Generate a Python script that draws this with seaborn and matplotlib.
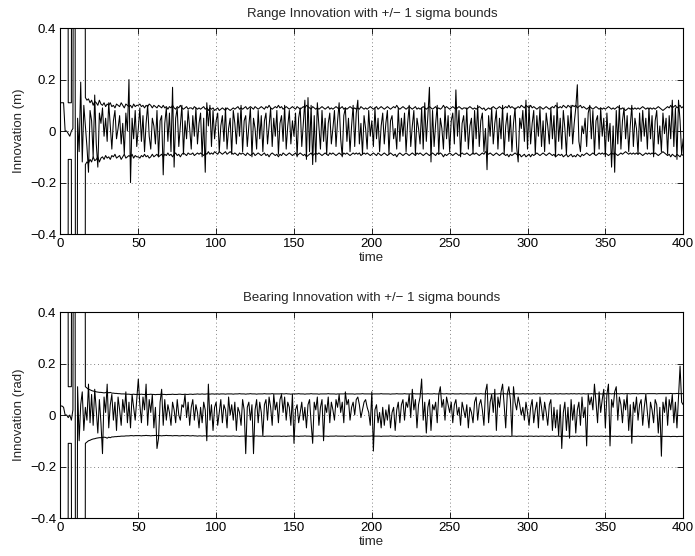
import numpy as np
import pandas as pd
import seaborn as sns
import matplotlib.pyplot as plt
from matplotlib.ticker import FuncFormatter

# -------------------------------
# Dados (passo de tempo = 1)
# -------------------------------
BIG = 5.0  # sigma fora da escala no início

range_innov = [
    0.11, 0.11, 0.11, 0.00, 0.00, -0.01, -0.02, 0.00, 0.01, 3.00,
    -3.00, 0.05, -0.08, 0.19, -0.12, 0.10, 0.02, -0.06, -0.16, 0.08,
    0.04, -0.10, 0.14, -0.05, -0.14, 0.07, 0.03, 0.09, -0.02, 0.05,
    -0.04, 0.11, 0.02, -0.07, 0.04, 0.08, -0.03, 0.01, 0.06, -0.05,
    0.03, -0.09, 0.07, 0.00, 0.20, -0.20, 0.05, -0.03, 0.08, -0.06,
    0.01, 0.09, -0.04, 0.06, -0.08, 0.03, 0.10, -0.02, -0.07, 0.05,
    0.02, -0.05, 0.08, -0.10, 0.04, 0.06, -0.17, 0.03, 0.09, -0.04,
    0.07, -0.08, 0.17, -0.14, 0.05, 0.09, -0.06, 0.02, 0.10, -0.09,
    0.04, -0.03, 0.08, 0.01, -0.07, 0.06, -0.02, 0.09, -0.05, 0.03,
    0.07, -0.10, 0.05, -0.16, 0.11, 0.02, 0.10, -0.06, 0.08, -0.03,
    0.04, 0.07, -0.08, 0.02, 0.06, -0.04, 0.09, -0.07, 0.01, 0.05,
    -0.09, 0.08, 0.03, -0.05, 0.07, -0.02, 0.10, -0.08, 0.04, 0.06,
    -0.06, 0.02, 0.09, -0.10, 0.05, 0.01, -0.07, 0.08, -0.03, 0.06,
    -0.08, 0.04, 0.07, -0.05, 0.02, 0.09, -0.06, 0.05, -0.02, 0.08,
    -0.09, 0.03, 0.06, -0.04, 0.10, -0.07, 0.02, 0.08, -0.05, 0.04,
    -0.02, 0.07, -0.10, 0.05, 0.09, -0.06, 0.03, 0.12, -0.11, 0.13,
    -0.08, 0.10, -0.13, 0.06, -0.12, 0.11, 0.02, -0.07, 0.08, -0.04,
    0.05, -0.09, 0.03, 0.07, -0.05, 0.01, 0.08, -0.06, 0.04, 0.11,
    -0.03, -0.10, 0.06, 0.09, -0.04, 0.05, -0.08, 0.02, 0.10, -0.06,
    0.07, 0.12, -0.05, 0.03, -0.09, 0.06, 0.01, -0.07, 0.08, -0.02,
    0.04, -0.06, 0.09, -0.03, 0.05, -0.08, 0.02, 0.07, -0.05, 0.03,
    0.08, -0.09, 0.04, 0.06, -0.03, 0.01, -0.07, 0.09, -0.04, 0.05,
    -0.02, 0.07, -0.08, 0.03, 0.10, -0.06, 0.02, 0.08, -0.09, 0.05,
    0.01, -0.05, 0.09, -0.07, 0.11, -0.04, 0.06, 0.17, -0.12, 0.08,
    -0.06, 0.03, 0.10, -0.09, 0.05, 0.01, -0.07, 0.09, -0.03, 0.06,
    -0.08, 0.04, 0.07, -0.05, 0.16, -0.02, 0.08, -0.10, 0.03, 0.06,
    -0.04, 0.09, -0.07, 0.02, 0.05, -0.09, 0.08, -0.03, 0.10, -0.06,
    0.04, 0.07, -0.08, 0.01, -0.15, 0.06, -0.02, 0.09, -0.05, 0.03,
    0.08, -0.07, 0.05, -0.03, 0.10, -0.09, 0.02, 0.07, -0.04, 0.06,
    -0.08, 0.03, 0.09, -0.06, -0.12, 0.05, 0.01, 0.08, -0.04, 0.12,
    -0.07, 0.10, -0.05, 0.03, 0.08, -0.09, 0.06, -0.02, 0.09, -0.06,
    0.04, -0.08, 0.07, 0.02, -0.05, 0.09, -0.03, 0.06, -0.10, 0.11,
    -0.04, 0.05, -0.07, 0.08, 0.01, -0.09, 0.06, -0.02, 0.10, -0.05,
    0.03, 0.09, 0.18, -0.04, -0.08, 0.02, -0.01, 0.05, -0.06, 0.07,
    0.10, -0.03, 0.08, -0.09, 0.04, 0.06, -0.07, 0.09, -0.02, 0.05,
    -0.10, 0.07, -0.04, 0.03, -0.14, 0.02, -0.16, 0.08, -0.05, 0.10,
    -0.07, 0.04, 0.09, -0.03, 0.06, -0.08, 0.02, 0.10, -0.06, 0.05,
    0.01, -0.09, 0.07, -0.04, 0.08, -0.02, 0.05, -0.07, 0.09, -0.03,
    0.06, -0.10, 0.04, 0.08, -0.05, 0.02, -0.08, 0.07, -0.01, 0.05,
    -0.09, 0.06, -0.03, 0.12, -0.06, 0.09, -0.11, 0.12, 0.04, -0.09,
    -0.03,
]

range_sigma = [
    BIG, BIG, BIG, BIG, BIG, 0.11, 0.11, 0.11, BIG, BIG,
    BIG, BIG, BIG, BIG, BIG, BIG, 0.13, 0.12, 0.125, 0.11,
    0.12, 0.10, 0.115, 0.11, 0.10, 0.12, 0.105, 0.10, 0.11, 0.095,
    0.105, 0.10, 0.11, 0.095, 0.10, 0.09, 0.105, 0.10, 0.095, 0.11,
    0.10, 0.09, 0.105, 0.10, 0.095, 0.10, 0.09, 0.105, 0.095, 0.10,
    0.10, 0.105, 0.095, 0.10, 0.09, 0.10, 0.095, 0.105, 0.10, 0.09,
    0.10, 0.095, 0.09, 0.10, 0.095, 0.09, 0.10, 0.09, 0.095, 0.085,
    0.095, 0.09, 0.10, 0.09, 0.085, 0.095, 0.09, 0.10, 0.09, 0.085,
    0.09, 0.095, 0.085, 0.09, 0.09, 0.085, 0.095, 0.09, 0.085, 0.09,
    0.085, 0.09, 0.095, 0.085, 0.09, 0.08, 0.09, 0.085, 0.09, 0.08,
    0.085, 0.09, 0.08, 0.085, 0.09, 0.085, 0.08, 0.09, 0.085, 0.08,
    0.085, 0.09, 0.085, 0.09, 0.095, 0.085, 0.09, 0.085, 0.09, 0.095,
    0.085, 0.09, 0.095, 0.09, 0.085, 0.095, 0.09, 0.085, 0.09, 0.095,
    0.09, 0.085, 0.095, 0.09, 0.10, 0.09, 0.085, 0.09, 0.095, 0.09,
    0.10, 0.09, 0.095, 0.085, 0.09, 0.095, 0.09, 0.085, 0.09, 0.095,
    0.09, 0.085, 0.095, 0.09, 0.085, 0.09, 0.095, 0.09, 0.10, 0.095,
    0.09, 0.085, 0.095, 0.09, 0.085, 0.09, 0.085, 0.09, 0.095, 0.09,
    0.085, 0.09, 0.095, 0.085, 0.09, 0.085, 0.09, 0.095, 0.09, 0.085,
    0.09, 0.095, 0.085, 0.09, 0.085, 0.09, 0.095, 0.09, 0.085, 0.09,
    0.085, 0.09, 0.085, 0.095, 0.09, 0.085, 0.09, 0.085, 0.09, 0.095,
    0.09, 0.085, 0.09, 0.095, 0.085, 0.09, 0.095, 0.09, 0.085, 0.09,
    0.095, 0.09, 0.085, 0.09, 0.095, 0.09, 0.10, 0.09, 0.085, 0.09,
    0.095, 0.09, 0.085, 0.09, 0.095, 0.09, 0.085, 0.09, 0.095, 0.085,
    0.09, 0.085, 0.09, 0.095, 0.09, 0.085, 0.09, 0.095, 0.09, 0.085,
    0.09, 0.095, 0.085, 0.09, 0.085, 0.09, 0.10, 0.09, 0.095, 0.09,
    0.085, 0.09, 0.095, 0.09, 0.085, 0.09, 0.095, 0.09, 0.085, 0.09,
    0.09, 0.085, 0.09, 0.095, 0.09, 0.085, 0.09, 0.085, 0.09, 0.095,
    0.09, 0.085, 0.09, 0.08, 0.085, 0.09, 0.085, 0.09, 0.095, 0.09,
    0.085, 0.09, 0.095, 0.09, 0.085, 0.09, 0.095, 0.09, 0.10, 0.09,
    0.095, 0.09, 0.085, 0.09, 0.095, 0.09, 0.10, 0.095, 0.09, 0.10,
    0.095, 0.09, 0.10, 0.09, 0.095, 0.09, 0.085, 0.09, 0.095, 0.09,
    0.085, 0.09, 0.095, 0.09, 0.085, 0.09, 0.095, 0.09, 0.10, 0.095,
    0.09, 0.095, 0.09, 0.10, 0.095, 0.09, 0.10, 0.095, 0.09, 0.10,
    0.095, 0.10, 0.09, 0.095, 0.10, 0.09, 0.095, 0.09, 0.085, 0.09,
    0.095, 0.09, 0.085, 0.09, 0.095, 0.09, 0.085, 0.09, 0.085, 0.09,
    0.085, 0.09, 0.095, 0.09, 0.085, 0.09, 0.085, 0.09, 0.095, 0.09,
    0.085, 0.09, 0.085, 0.08, 0.085, 0.09, 0.085, 0.09, 0.085, 0.09,
    0.085, 0.09, 0.085, 0.09, 0.095, 0.09, 0.085, 0.09, 0.085, 0.09,
    0.085, 0.09, 0.085, 0.09, 0.095, 0.09, 0.085, 0.08, 0.085, 0.09,
    0.095, 0.09, 0.10, 0.09, 0.095, 0.10, 0.09, 0.095, 0.10, 0.09,
    0.095,
]

bearing_innov = [
    0.035, 0.035, 0.03, 0.00, 0.00, -0.01, 0.00, -0.02, 0.02, 3.00,
    -3.00, 0.11, -0.10, 0.04, 0.09, -0.06, 0.03, -0.02, 0.12, -0.03,
    0.08, -0.04, 0.10, 0.02, -0.07, 0.06, -0.03, -0.15, 0.07, 0.01,
    0.12, -0.05, 0.04, 0.08, -0.02, 0.05, -0.06, 0.07, 0.02, -0.04,
    0.06, 0.01, 0.09, -0.03, 0.05, -0.05, 0.08, 0.03, -0.02, 0.06,
    0.14, 0.04, -0.03, 0.07, 0.02, 0.12, -0.04, 0.06, 0.01, 0.08,
    -0.05, 0.03, -0.13, -0.09, 0.05, 0.10, -0.04, 0.06, -0.02, 0.04,
    0.01, -0.04, 0.05, 0.02, -0.03, 0.06, 0.00, -0.02, 0.04, 0.03,
    0.08, -0.01, 0.05, -0.04, 0.03, 0.06, -0.02, 0.04, 0.01, -0.05,
    0.03, -0.03, 0.05, 0.02, -0.10, 0.12, -0.02, 0.04, -0.06, 0.03,
    0.05, -0.04, 0.01, 0.06, -0.03, 0.04, 0.02, -0.05, 0.07, 0.00,
    0.04, -0.02, 0.05, -0.06, 0.03, 0.01, -0.04, 0.06, 0.02, -0.15,
    0.03, 0.05, -0.02, 0.04, -0.15, 0.02, 0.06, -0.03, 0.05, 0.01,
    -0.08, 0.04, 0.06, -0.02, 0.07, 0.03, -0.04, 0.08, 0.02, 0.05,
    -0.03, 0.06, 0.08, 0.01, 0.07, -0.02, 0.05, 0.03, -0.04, 0.08,
    -0.11, 0.02, 0.04, -0.03, 0.01, 0.05, -0.02, 0.03, -0.05, 0.04,
    0.06, -0.03, -0.11, 0.05, 0.02, 0.07, -0.04, 0.03, 0.06, -0.10,
    0.04, 0.01, 0.07, -0.03, 0.05, 0.02, -0.02, 0.06, 0.03, 0.08,
    0.01, 0.05, -0.03, 0.09, 0.04, 0.06, -0.02, 0.03, 0.05, 0.00,
    0.06, 0.07, 0.04, -0.01, 0.02, 0.05, 0.06, 0.03, 0.01, -0.04,
    0.09, -0.14, 0.02, 0.04, -0.03, 0.01, -0.05, 0.03, -0.04, 0.02,
    -0.02, 0.04, -0.05, 0.01, 0.03, -0.06, 0.02, 0.05, -0.03, 0.04,
    0.06, -0.02, 0.05, 0.03, 0.08, -0.01, 0.10, 0.02, 0.06, -0.05,
    0.04, 0.07, 0.14, -0.02, 0.05, -0.07, 0.03, 0.06, -0.06, 0.04,
    0.02, 0.05, -0.03, 0.08, 0.11, 0.03, 0.06, -0.02, 0.07, 0.04,
    0.01, 0.05, -0.03, 0.04, 0.06, 0.00, 0.03, -0.04, 0.05, 0.02,
    -0.01, 0.04, -0.05, 0.03, 0.01, -0.03, 0.05, 0.07, -0.02, 0.04,
    0.06, 0.02, -0.04, 0.09, 0.12, -0.03, 0.05, 0.08, 0.01, 0.10,
    -0.06, 0.07, 0.03, 0.09, 0.12, 0.04, -0.05, 0.08, 0.11, 0.06,
    -0.08, 0.11, 0.05, 0.02, 0.07, 0.04, 0.00, 0.03, -0.02, 0.05,
    0.01, -0.04, 0.03, 0.06, -0.03, 0.02, 0.05, -0.05, 0.07, 0.03,
    -0.02, 0.05, 0.01, -0.04, 0.04, 0.06, -0.06, 0.03, -0.05, 0.02,
    -0.08, 0.04, -0.13, 0.01, 0.05, -0.06, 0.03, -0.09, 0.06, -0.02,
    0.04, -0.07, 0.02, 0.05, -0.04, 0.07, -0.01, 0.03, -0.12, 0.08,
    0.04, 0.07, 0.02, 0.12, 0.05, -0.03, 0.09, 0.01, 0.06, 0.10,
    -0.05, 0.08, 0.12, -0.12, 0.06, 0.03, 0.09, 0.11, -0.02, 0.07,
    0.04, -0.03, 0.06, 0.02, 0.08, -0.06, 0.04, -0.11, 0.05, 0.01,
    0.07, -0.02, 0.04, 0.06, -0.04, 0.03, 0.08, 0.01, -0.05, 0.05,
    0.02, -0.03, 0.06, 0.04, -0.07, 0.03, -0.16, 0.05, 0.01, 0.07,
    -0.04, 0.06, 0.02, 0.08, -0.03, 0.05, -0.05, 0.07, 0.19, 0.05,
    0.04,
]

bearing_sigma = [
    BIG, BIG, BIG, BIG, BIG, 0.11, 0.11, 0.11, BIG, BIG,
    BIG, BIG, BIG, BIG, BIG, BIG, 0.11, 0.105, 0.10, 0.098,
    0.095, 0.093, 0.092, 0.09, 0.089, 0.088, 0.088, 0.087, 0.086, 0.087,
    0.09, 0.086, 0.088, 0.085, 0.085, 0.084, 0.084, 0.083, 0.083, 0.082,
    0.082, 0.082, 0.081, 0.081, 0.081, 0.08, 0.08, 0.081, 0.08, 0.08,
    0.08, 0.08, 0.081, 0.08, 0.08, 0.079, 0.08, 0.08, 0.081, 0.08,
    0.08, 0.079, 0.08, 0.08, 0.08, 0.081, 0.08, 0.08, 0.079, 0.08,
    0.08, 0.08, 0.081, 0.08, 0.08, 0.08, 0.081, 0.081, 0.08, 0.08,
    0.081, 0.08, 0.08, 0.081, 0.081, 0.08, 0.081, 0.081, 0.082, 0.081,
    0.081, 0.082, 0.081, 0.081, 0.082, 0.082, 0.081, 0.082, 0.082, 0.081,
    0.082, 0.082, 0.081, 0.082, 0.082, 0.082, 0.081, 0.082, 0.082, 0.082,
    0.082, 0.081, 0.082, 0.082, 0.082, 0.083, 0.082, 0.082, 0.082, 0.081,
    0.082, 0.082, 0.083, 0.082, 0.082, 0.082, 0.081, 0.082, 0.082, 0.082,
    0.082, 0.083, 0.082, 0.082, 0.082, 0.082, 0.083, 0.082, 0.082, 0.082,
    0.082, 0.082, 0.083, 0.082, 0.082, 0.083, 0.082, 0.082, 0.081, 0.082,
    0.082, 0.082, 0.082, 0.083, 0.082, 0.082, 0.082, 0.081, 0.082, 0.082,
    0.082, 0.083, 0.082, 0.082, 0.082, 0.082, 0.081, 0.082, 0.082, 0.082,
    0.082, 0.082, 0.083, 0.082, 0.082, 0.082, 0.082, 0.081, 0.082, 0.082,
    0.082, 0.082, 0.082, 0.083, 0.082, 0.082, 0.082, 0.082, 0.082, 0.081,
    0.082, 0.082, 0.082, 0.082, 0.083, 0.082, 0.082, 0.082, 0.082, 0.082,
    0.081, 0.082, 0.082, 0.082, 0.082, 0.082, 0.083, 0.082, 0.082, 0.082,
    0.082, 0.082, 0.081, 0.082, 0.082, 0.082, 0.083, 0.082, 0.082, 0.082,
    0.082, 0.083, 0.082, 0.082, 0.082, 0.082, 0.082, 0.083, 0.082, 0.082,
    0.082, 0.082, 0.083, 0.082, 0.082, 0.082, 0.083, 0.082, 0.082, 0.082,
    0.083, 0.082, 0.082, 0.082, 0.082, 0.083, 0.082, 0.082, 0.083, 0.082,
    0.082, 0.082, 0.083, 0.082, 0.082, 0.082, 0.082, 0.083, 0.082, 0.082,
    0.082, 0.083, 0.082, 0.082, 0.082, 0.082, 0.083, 0.082, 0.082, 0.082,
    0.083, 0.082, 0.082, 0.082, 0.083, 0.082, 0.082, 0.082, 0.083, 0.082,
    0.082, 0.082, 0.083, 0.082, 0.082, 0.083, 0.082, 0.082, 0.082, 0.083,
    0.082, 0.082, 0.082, 0.083, 0.082, 0.082, 0.082, 0.083, 0.082, 0.082,
    0.083, 0.082, 0.082, 0.082, 0.083, 0.082, 0.082, 0.083, 0.082, 0.082,
    0.082, 0.083, 0.082, 0.082, 0.083, 0.082, 0.082, 0.082, 0.083, 0.082,
    0.082, 0.083, 0.082, 0.082, 0.082, 0.083, 0.082, 0.082, 0.083, 0.082,
    0.083, 0.082, 0.082, 0.083, 0.082, 0.082, 0.083, 0.082, 0.082, 0.083,
    0.082, 0.083, 0.082, 0.082, 0.083, 0.082, 0.083, 0.082, 0.082, 0.083,
    0.083, 0.082, 0.083, 0.083, 0.082, 0.083, 0.082, 0.083, 0.083, 0.082,
    0.083, 0.083, 0.082, 0.083, 0.083, 0.083, 0.082, 0.083, 0.083, 0.083,
    0.083, 0.082, 0.083, 0.083, 0.083, 0.083, 0.082, 0.083, 0.083, 0.083,
    0.083, 0.083, 0.083, 0.082, 0.083, 0.083, 0.083, 0.083, 0.083, 0.083,
    0.083, 0.083, 0.084, 0.083, 0.083, 0.083, 0.084, 0.083, 0.083, 0.083,
    0.083,
]

x_ticks = [0, 50, 100, 150, 200, 250, 300, 350, 400]
y_ticks = [-0.4, -0.2, 0, 0.2, 0.4]

# -------------------------------
# Estilo (parecido com MATLAB)
# -------------------------------
sns.set_style("ticks")
plt.rcParams['font.family'] = ['Liberation Sans', 'DejaVu Sans']
plt.rcParams['font.size'] = 9.5


def fmt_y(v, pos):
    if abs(v) < 1e-9:
        return '0'
    return f'{v:.1f}'.replace('-', '\u2212')


def painel(ax, innov, sigma, titulo, ylabel):
    df = pd.DataFrame({'time': np.arange(len(innov)), 'innov': innov})
    ds = pd.DataFrame({'time': np.arange(len(sigma)), 'upper': sigma,
                       'lower': [-s for s in sigma]})
    sns.lineplot(data=df, x='time', y='innov', ax=ax, color='black',
                 linewidth=0.75, estimator=None, sort=False, zorder=3)
    for col in ['upper', 'lower']:
        sns.lineplot(data=ds, x='time', y=col, ax=ax, color='black',
                     linewidth=0.75, estimator=None, sort=False, zorder=3)
    ax.set_xlim(0, 400)
    ax.set_ylim(-0.4, 0.4)
    ax.set_xticks(x_ticks)
    ax.set_yticks(y_ticks)
    ax.yaxis.set_major_formatter(FuncFormatter(fmt_y))
    ax.grid(True, color='0.35', linestyle=(0, (1, 3.5)), linewidth=0.6, zorder=1)
    ax.tick_params(direction='in', top=True, right=True, length=4.5,
                   width=0.6, labelsize=9.5, pad=3, colors='black')
    for s in ax.spines.values():
        s.set_linewidth(0.8)
        s.set_color('black')
    ax.set_title(titulo, fontsize=9.5, pad=8)
    ax.set_xlabel('time', fontsize=9.5, labelpad=1)
    ax.set_ylabel(ylabel, fontsize=9.5, labelpad=4)


fig = plt.figure(figsize=(6.95, 5.56), dpi=100)
ax1 = fig.add_axes([0.087, 0.579, 0.896, 0.3705])
ax2 = fig.add_axes([0.087, 0.0683, 0.896, 0.3705])

painel(ax1, range_innov, range_sigma,
       'Range Innovation with +/\u2212 1 sigma bounds', 'Innovation (m)')
painel(ax2, bearing_innov, bearing_sigma,
       'Bearing Innovation with +/\u2212 1 sigma bounds', 'Innovation (rad)')

fig.savefig('out.png', dpi=100)
